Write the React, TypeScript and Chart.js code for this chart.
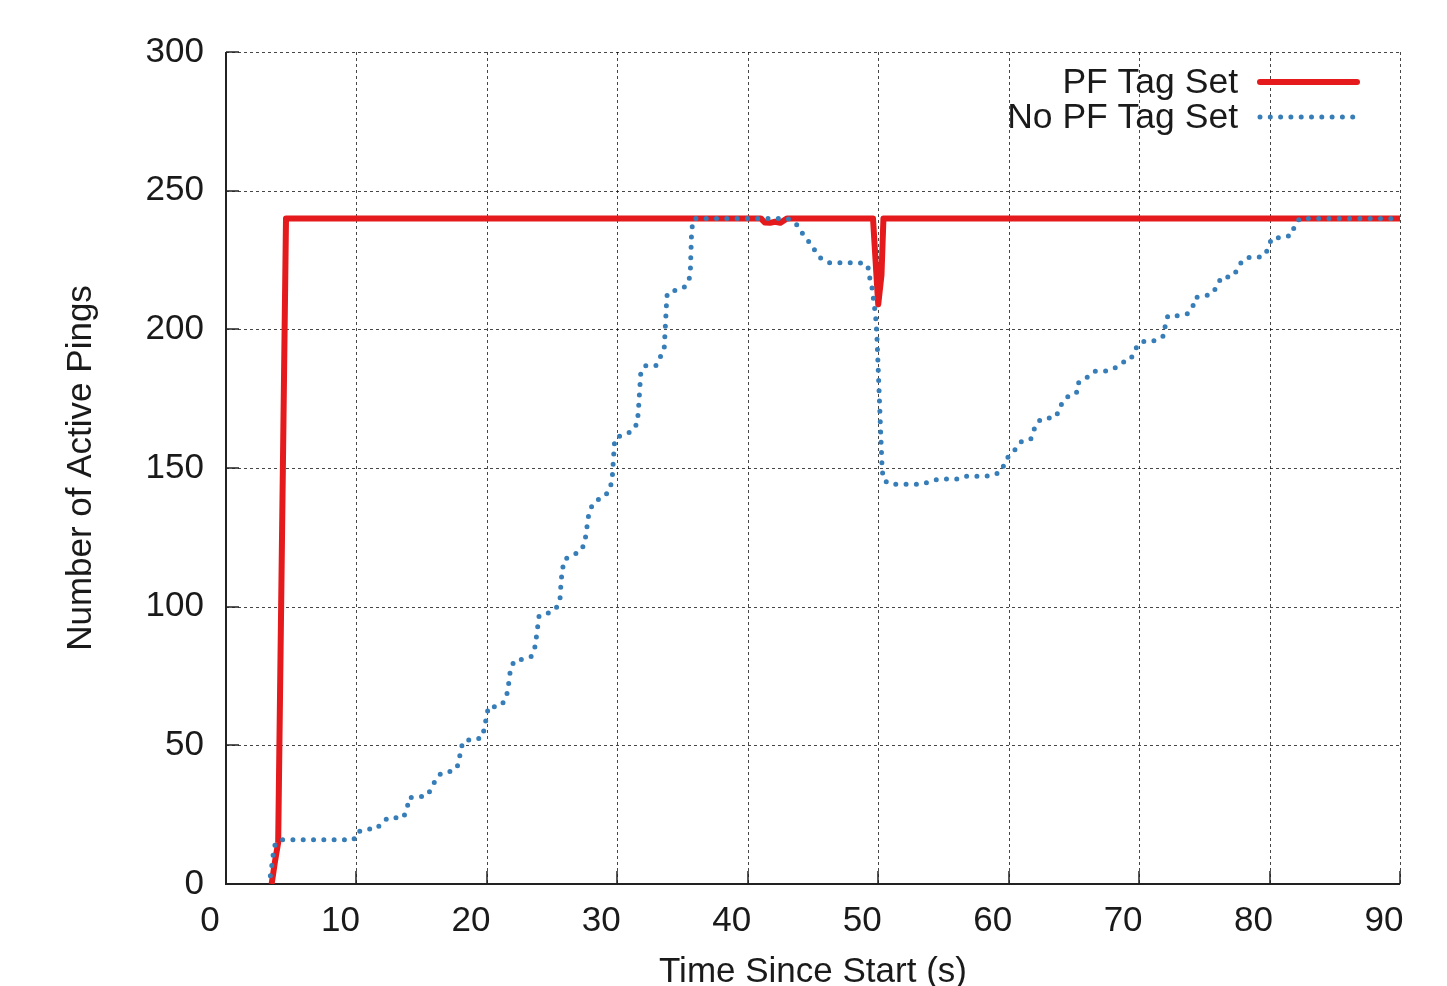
import React, { useEffect, useRef } from "react";
import { Chart, registerables } from "chart.js";

Chart.register(...registerables);

// ---- data ----
const seriesNames = ["PF Tag Set", "No PF Tag Set"];

const pfTimes = [3.5, 3.75, 4.0, 4.6, 41.0, 41.3, 41.7, 42.1, 42.5, 43.0, 49.6, 50.0, 50.25, 50.4, 90];
const pfPings = [0, 8, 15, 240, 240, 238.5, 238.4, 238.8, 238.4, 240, 240, 209, 219.6, 240, 240];

const noPfTimes = [
  3.4, 3.55, 3.65, 3.75, 4.1, 9.8, 10.0, 10.7, 11.5, 11.95, 12.4, 13.6, 13.9, 14.0, 15.4, 15.8, 16.1,
  16.5, 17.2, 17.7, 17.9, 18.0, 18.3, 19.1, 19.7, 19.8, 20.0, 20.1, 20.9, 21.4, 21.6, 21.7, 21.8, 22.1,
  22.8, 23.4, 23.7, 23.8, 24.0, 24.7, 25.3, 25.6, 25.7, 25.9, 26.3, 27.2, 27.5, 27.8, 28.1, 28.5, 29.0,
  29.4, 29.6, 29.8, 30.4, 31.1, 31.5, 31.6, 31.8, 32.2, 33.0, 33.3, 33.6, 33.8, 34.1, 34.4, 35.1, 35.5,
  35.6, 35.7, 35.9, 43.0, 43.6, 44.0, 44.4, 44.8, 45.2, 45.6, 46.2, 48.6, 49.2, 49.3, 49.5, 49.7, 49.8,
  49.9, 50.3, 50.4, 50.9, 53.3, 53.9, 54.6, 56.0, 56.6, 58.2, 58.9, 59.5, 59.7, 60.1, 60.6, 61.0, 61.7,
  61.9, 62.2, 62.7, 63.5, 63.9, 64.1, 64.6, 65.2, 65.3, 65.6, 66.1, 66.6, 67.4, 68.1, 68.6, 69.3, 69.6,
  69.9, 70.5, 71.3, 71.9, 72.0, 72.2, 73.0, 73.7, 74.1, 74.3, 75.0, 75.6, 76.0, 76.3, 77.1, 77.5, 77.8,
  78.3, 79.1, 79.7, 79.9, 80.2, 81.0, 81.7, 81.9, 82.3, 90,
];
const noPfPings = [
  3, 8, 12, 14, 16, 16, 18.6, 19.8, 19.8, 21.9, 23.9, 23.9, 27.4, 31.1, 31.8, 34.8, 38,
  39.9, 40.6, 41.8, 45.4, 49.1, 51.9, 51.9, 53.1, 56.8, 60.4, 63.9, 63.9, 66.1, 69.7, 73.4, 77.2, 80.6,
  81.0, 82.0, 85.7, 89.3, 96.7, 97.7, 99.4, 102.4, 109.8, 116.8, 118, 120, 123, 133, 137, 138.5, 139.6,
  142.1, 145.7, 160.5, 162.0, 163.1, 165.9, 169.7, 184.5, 187.0, 187.0, 190.1, 193.6, 212.1, 214.0, 214.0, 215.0, 217.8,
  221.5, 236.2, 240, 240, 238.8, 236.0, 233.1, 231.0, 228.0, 225.6, 224.0, 224.0, 223.1, 219.5, 215.8, 208.5, 204.8,
  197.6, 149.5, 145.7, 144.1, 144.1, 145.0, 146.0, 146.0, 147.0, 147.0, 147.5, 149.1, 152.3, 154.9, 157.1, 159.7, 160.5,
  163.4, 166.6, 168.0, 168.0, 170.7, 173.8, 176.0, 177.1, 180.7, 181.0, 183.0, 184.9, 184.9, 185.9, 187.9, 188.8, 191.4,
  194.5, 195.9, 195.9, 197.7, 201.3, 204.9, 204.9, 205.6, 207.9, 211.5, 212.0, 212.8, 215.8, 218.9, 218.9, 221.2, 223.9,
  225.9, 225.9, 227.0, 229.9, 233.0, 233.0, 234.0, 237.1, 240.0, 240,
];

const xTicks = [0, 10, 20, 30, 40, 50, 60, 70, 80, 90];
const yTicks = [0, 50, 100, 150, 200, 250, 300];
const xTitle = "Time Since Start (s)";
const yTitle = "Number of Active Pings";

const RED = "#e41a1c";
const BLUE = "#377eb8";
const FONT = "'Liberation Sans', Arial, Helvetica, sans-serif";
const TEXT = "#1a1a1a";

const framePlugin = {
  id: "frame",
  beforeDatasetsDraw(chart: any) {
    const { ctx, chartArea } = chart;
    const xs = chart.scales.x;
    const ys = chart.scales.y;
    const { left, right, top, bottom } = chartArea;
    ctx.save();
    // dotted grid
    ctx.strokeStyle = "rgba(0,0,0,0.72)";
    ctx.lineWidth = 1;
    ctx.setLineDash([3, 3]);
    xTicks.forEach((v) => {
      const px = Math.round(xs.getPixelForValue(v)) + 0.5;
      ctx.beginPath();
      ctx.moveTo(px, top);
      ctx.lineTo(px, bottom);
      ctx.stroke();
    });
    yTicks.forEach((v) => {
      const py = Math.round(ys.getPixelForValue(v)) + 0.5;
      ctx.beginPath();
      ctx.moveTo(left, py);
      ctx.lineTo(right, py);
      ctx.stroke();
    });
    ctx.setLineDash([]);
    // axes
    ctx.strokeStyle = "#222";
    ctx.lineWidth = 2;
    ctx.beginPath();
    ctx.moveTo(left, top);
    ctx.lineTo(left, bottom);
    ctx.lineTo(right, bottom);
    ctx.stroke();
    // inward ticks
    ctx.lineWidth = 1.5;
    xTicks.forEach((v) => {
      const px = Math.round(xs.getPixelForValue(v));
      ctx.beginPath();
      ctx.moveTo(px, bottom);
      ctx.lineTo(px, bottom - 13);
      ctx.stroke();
    });
    yTicks.forEach((v) => {
      const py = Math.round(ys.getPixelForValue(v));
      ctx.beginPath();
      ctx.moveTo(left, py);
      ctx.lineTo(left + 13, py);
      ctx.stroke();
    });
    ctx.restore();
  },
  afterDraw(chart: any) {
    const { ctx, chartArea } = chart;
    const { left, right, top, bottom } = chartArea;
    ctx.save();
    ctx.fillStyle = TEXT;
    ctx.font = `35px ${FONT}`;
    // x title
    ctx.textAlign = "center";
    ctx.textBaseline = "alphabetic";
    ctx.fillText(xTitle, (left + right) / 2, 982);
    // y title
    ctx.save();
    ctx.translate(91, (top + bottom) / 2);
    ctx.rotate(-Math.PI / 2);
    ctx.fillText(yTitle, 0, 0);
    ctx.restore();
    // legend
    ctx.font = `35.5px ${FONT}`;
    ctx.textAlign = "right";
    ctx.fillText(seriesNames[0], 1238, 93);
    ctx.fillText(seriesNames[1], 1238, 128);
    ctx.lineCap = "round";
    ctx.strokeStyle = RED;
    ctx.lineWidth = 6;
    ctx.beginPath();
    ctx.moveTo(1260, 82);
    ctx.lineTo(1357, 82);
    ctx.stroke();
    ctx.strokeStyle = BLUE;
    ctx.lineWidth = 5;
    ctx.setLineDash([0, 10.3]);
    ctx.beginPath();
    ctx.moveTo(1260, 117);
    ctx.lineTo(1357, 117);
    ctx.stroke();
    ctx.restore();
  },
};

export default function App() {
  const ref = useRef<HTMLCanvasElement | null>(null);
  useEffect(() => {
    document.body.style.margin = "0";
    const canvas = ref.current;
    if (!canvas) return;
    const chart = new Chart(canvas, {
      type: "line",
      data: {
        datasets: [
          {
            label: seriesNames[1],
            data: noPfTimes.map((t, i) => ({ x: t, y: noPfPings[i] })),
            borderColor: BLUE,
            borderWidth: 5,
            borderDash: [0, 10.3],
            borderCapStyle: "round",
            borderJoinStyle: "round",
            pointRadius: 0,
            fill: false,
            tension: 0,
            order: 0,
          },
          {
            label: seriesNames[0],
            data: pfTimes.map((t, i) => ({ x: t, y: pfPings[i] })),
            borderColor: RED,
            borderWidth: 6,
            borderCapStyle: "butt",
            borderJoinStyle: "round",
            pointRadius: 0,
            fill: false,
            tension: 0,
            order: 1,
          },
        ],
      },
      options: {
        responsive: false,
        animation: false,
        devicePixelRatio: 1,
        layout: { padding: { top: 52, right: 47, left: 0, bottom: 0 } },
        plugins: { legend: { display: false }, tooltip: { enabled: false } },
        scales: {
          x: {
            type: "linear",
            min: 0,
            max: 90,
            afterBuildTicks: (s: any) => {
              s.ticks = xTicks.map((v) => ({ value: v }));
            },
            ticks: {
              font: { family: FONT, size: 35 },
              color: TEXT,
              padding: 8,
              labelOffset: -16,
              maxRotation: 0,
              autoSkip: false,
            },
            grid: { display: false },
            border: { display: false },
            afterFit: (s: any) => {
              s.height = 102;
            },
          },
          y: {
            type: "linear",
            min: 0,
            max: 300,
            afterBuildTicks: (s: any) => {
              s.ticks = yTicks.map((v) => ({ value: v }));
            },
            ticks: {
              font: { family: FONT, size: 35 },
              color: TEXT,
              padding: 14,
              autoSkip: false,
            },
            grid: { display: false },
            border: { display: false },
            afterFit: (s: any) => {
              s.width = 226;
            },
          },
        },
      },
      plugins: [framePlugin],
    } as any);
    return () => chart.destroy();
  }, []);
  return (
    <canvas
      ref={ref}
      width={1447}
      height={986}
      style={{ display: "block", width: 1447, height: 986 }}
    />
  );
}
